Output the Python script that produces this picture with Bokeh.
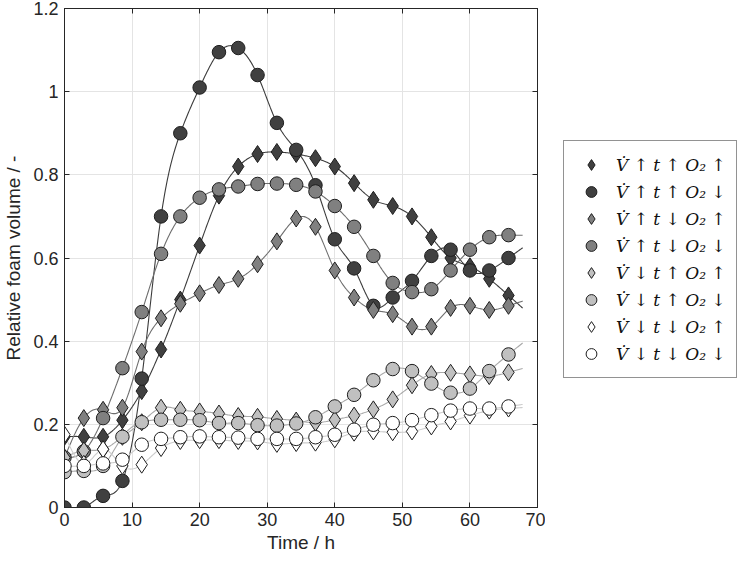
import numpy as np
from bokeh.plotting import figure
from bokeh.layouts import row
from bokeh.models import (Legend, LegendItem, LinearAxis, Range1d, FixedTicker,
                          CustomJSTickFormatter)
from bokeh.embed import file_html
from bokeh.resources import INLINE

# ---------------- data ----------------
time_h = [0.00, 2.86, 5.71, 8.57, 11.43, 14.29, 17.14, 20.00, 22.86, 25.71, 28.57, 31.43,
          34.29, 37.14, 40.00, 42.86, 45.71, 48.57, 51.43, 54.29, 57.14, 60.00, 62.86, 65.71]

s1_dark_diamond = [0.17, 0.17, 0.17, 0.21, 0.28, 0.38, 0.50, 0.63, 0.75, 0.82, 0.85, 0.855,
                   0.85, 0.84, 0.82, 0.78, 0.74, 0.725, 0.70, 0.65, 0.60, 0.58, 0.55, 0.51]
s2_dark_circle = [0.0, 0.0, 0.028, 0.064, 0.31, 0.70, 0.90, 1.01, 1.095, 1.105, 1.04, 0.925,
                  0.86, 0.775, 0.645, 0.575, 0.485, 0.505, 0.545, 0.605, 0.62, 0.57, 0.57, 0.60]
s3_mid_diamond = [0.12, 0.215, 0.235, 0.24, 0.375, 0.455, 0.49, 0.515, 0.535, 0.55, 0.585, 0.64,
                  0.695, 0.675, 0.57, 0.505, 0.475, 0.465, 0.435, 0.435, 0.48, 0.485, 0.475, 0.485]
s4_mid_circle = [0.12, 0.135, 0.215, 0.335, 0.47, 0.61, 0.70, 0.745, 0.765, 0.772, 0.778, 0.779,
                 0.776, 0.76, 0.725, 0.675, 0.605, 0.54, 0.518, 0.525, 0.57, 0.62, 0.65, 0.655]
s5_light_diamond = [0.12, 0.137, 0.14, 0.17, 0.205, 0.24, 0.235, 0.231, 0.226, 0.22, 0.218, 0.213,
                    0.209, 0.204, 0.211, 0.221, 0.236, 0.26, 0.294, 0.321, 0.324, 0.32, 0.316, 0.325]
s6_light_circle = [0.085, 0.088, 0.10, 0.17, 0.205, 0.211, 0.211, 0.21, 0.203, 0.203, 0.198, 0.197,
                   0.202, 0.217, 0.243, 0.271, 0.306, 0.333, 0.328, 0.298, 0.276, 0.286, 0.328, 0.368]
s7_white_diamond = [0.175, 0.105, 0.14, 0.10, 0.103, 0.143, 0.16, 0.162, 0.162, 0.16, 0.159, 0.153,
                    0.155, 0.156, 0.164, 0.18, 0.183, 0.181, 0.183, 0.195, 0.207, 0.221, 0.233, 0.238]
s8_white_circle = [0.10, 0.10, 0.106, 0.115, 0.151, 0.165, 0.169, 0.171, 0.169, 0.168, 0.165, 0.165,
                   0.165, 0.169, 0.175, 0.187, 0.199, 0.203, 0.21, 0.222, 0.233, 0.238, 0.238, 0.243]

series_labels = [
    "V\u0307 \u2191 t \u2191 O\u2082 \u2191",
    "V\u0307 \u2191 t \u2191 O\u2082 \u2193",
    "V\u0307 \u2191 t \u2193 O\u2082 \u2191",
    "V\u0307 \u2191 t \u2193 O\u2082 \u2193",
    "V\u0307 \u2193 t \u2191 O\u2082 \u2191",
    "V\u0307 \u2193 t \u2191 O\u2082 \u2193",
    "V\u0307 \u2193 t \u2193 O\u2082 \u2191",
    "V\u0307 \u2193 t \u2193 O\u2082 \u2193",
]
x_ticks = [0, 10, 20, 30, 40, 50, 60, 70]
y_ticks = [0, 0.2, 0.4, 0.6, 0.8, 1.0, 1.2]

series = [s1_dark_diamond, s2_dark_circle, s3_mid_diamond, s4_mid_circle,
          s5_light_diamond, s6_light_circle, s7_white_diamond, s8_white_circle]
markers = ["diamond", "circle"] * 4
fills = ["#404040", "#404040", "#808080", "#808080", "#c0c0c0", "#c0c0c0", "#ffffff", "#ffffff"]
line_cols = ["#3c3c3c", "#3c3c3c", "#6e6e6e", "#6e6e6e", "#a8a8a8", "#a8a8a8", "#cccccc", "#cccccc"]
curve_end = 67.8


def natural_cubic(x, y, xs):
    x = np.asarray(x, float)
    y = np.asarray(y, float)
    n = len(x)
    h = np.diff(x)
    A = np.zeros((n, n))
    b = np.zeros(n)
    A[0, 0] = 1.0
    A[-1, -1] = 1.0
    for i in range(1, n - 1):
        A[i, i - 1] = h[i - 1]
        A[i, i] = 2 * (h[i - 1] + h[i])
        A[i, i + 1] = h[i]
        b[i] = 6 * ((y[i + 1] - y[i]) / h[i] - (y[i] - y[i - 1]) / h[i - 1])
    M = np.linalg.solve(A, b)
    out = np.empty(len(xs))
    for j, t in enumerate(xs):
        if t >= x[-1]:
            slope = (y[-1] - y[-2]) / h[-1] + h[-1] * (2 * M[-1] + M[-2]) / 6
            out[j] = y[-1] + slope * (t - x[-1])
            continue
        i = int(np.searchsorted(x, t, side="right") - 1)
        i = max(0, min(i, n - 2))
        hi = h[i]
        a = x[i + 1] - t
        bb = t - x[i]
        out[j] = (M[i] * a ** 3 / (6 * hi) + M[i + 1] * bb ** 3 / (6 * hi)
                  + (y[i] / hi - M[i] * hi / 6) * a + (y[i + 1] / hi - M[i + 1] * hi / 6) * bb)
    return out


FIG_H = 555
MAIN_W = 545
LEG_W = 738 - MAIN_W

p = figure(width=MAIN_W, height=FIG_H, output_backend="svg", toolbar_location=None,
           x_range=Range1d(0, 70), y_range=Range1d(0, 1.2),
           min_border_left=56, min_border_right=8, min_border_top=8,
           min_border_bottom=48)
p.background_fill_color = "white"
p.border_fill_color = "white"
p.outline_line_color = "#262626"
p.outline_line_width = 1

axis_font = "Liberation Sans"
p.xaxis.ticker = FixedTicker(ticks=x_ticks)
p.yaxis.ticker = FixedTicker(ticks=y_ticks)
p.yaxis.formatter = CustomJSTickFormatter(code="return String(Number(tick.toFixed(2)));")
for ax in (p.xaxis[0], p.yaxis[0]):
    ax.major_tick_in = 5
    ax.major_tick_out = 0
    ax.minor_tick_line_color = None
    ax.axis_line_color = "#262626"
    ax.major_tick_line_color = "#262626"
    ax.major_label_text_font = axis_font
    ax.major_label_text_font_size = "18px"
    ax.major_label_text_color = "#262626"
    ax.axis_label_text_font = axis_font
    ax.axis_label_text_font_size = "19px"
    ax.axis_label_text_font_style = "normal"
    ax.axis_label_text_color = "#262626"
p.xaxis.axis_label = "Time / h"
p.yaxis.axis_label = "Relative foam volume / -"
p.xaxis.major_label_standoff = 5
p.yaxis.major_label_standoff = 6
p.xaxis.axis_label_standoff = 3
p.yaxis.axis_label_standoff = 6

p.xgrid.ticker = FixedTicker(ticks=x_ticks)
p.ygrid.ticker = FixedTicker(ticks=y_ticks)
p.grid.grid_line_color = "#e4e4e4"
p.grid.grid_line_width = 1

top_ax = LinearAxis(ticker=FixedTicker(ticks=x_ticks),
                    formatter=CustomJSTickFormatter(code="return '';"),
                    major_tick_in=5, major_tick_out=0, minor_tick_line_color=None,
                    axis_line_color="#262626", major_tick_line_color="#262626",
                    major_label_standoff=0, major_label_text_font_size="0px")
right_ax = LinearAxis(ticker=FixedTicker(ticks=y_ticks),
                      formatter=CustomJSTickFormatter(code="return '';"),
                      major_tick_in=5, major_tick_out=0, minor_tick_line_color=None,
                      axis_line_color="#262626", major_tick_line_color="#262626",
                      major_label_standoff=0, major_label_text_font_size="0px")
p.add_layout(top_ax, "above")
p.add_layout(right_ax, "right")

xs = np.linspace(0, curve_end, 500)
for ys, lc in zip(series, line_cols):
    p.line(xs, natural_cubic(time_h, ys, xs), line_color=lc, line_width=1.1)

for ys, mk, fc in zip(series, markers, fills):
    size = 17 if mk == "diamond" else 13.5
    p.scatter(time_h, ys, marker=mk, size=size, fill_color=fc,
              line_color="#1e1e1e", line_width=1)

# ---------------- legend panel ----------------
# the legend's own renderers hold the same series, but this panel's ranges keep them out of view
pl = figure(width=LEG_W, height=FIG_H, output_backend="svg", toolbar_location=None,
            x_range=Range1d(1000, 1001), y_range=Range1d(1000, 1001),
            min_border=0, min_border_left=0, min_border_right=0,
            min_border_top=0, min_border_bottom=0)
pl.axis.visible = False
pl.grid.visible = False
pl.outline_line_color = None
pl.background_fill_color = "white"
pl.border_fill_color = "white"

items = []
for ys, mk, fc, lab in zip(series, markers, fills, series_labels):
    r = pl.scatter(time_h, ys, marker=mk, size=12, fill_color=fc,
                   line_color="#1e1e1e", line_width=1)
    items.append(LegendItem(label=lab, renderers=[r]))

legend = Legend(items=items, location=(18, 129))
legend.label_text_font = "DejaVu Serif"
legend.label_text_font_style = "italic"
legend.label_text_font_size = "17px"
legend.label_text_color = "#111111"
legend.glyph_width = 34
legend.glyph_height = 27
legend.label_height = 27
legend.spacing = 0
legend.padding = 10
legend.margin = 0
legend.label_standoff = 8
legend.border_line_color = "#262626"
legend.border_line_width = 1
legend.background_fill_color = "white"
legend.background_fill_alpha = 1.0
pl.add_layout(legend, "center")

layout = row(p, pl, spacing=0)
open("out.html", "w").write(file_html(layout, INLINE))
